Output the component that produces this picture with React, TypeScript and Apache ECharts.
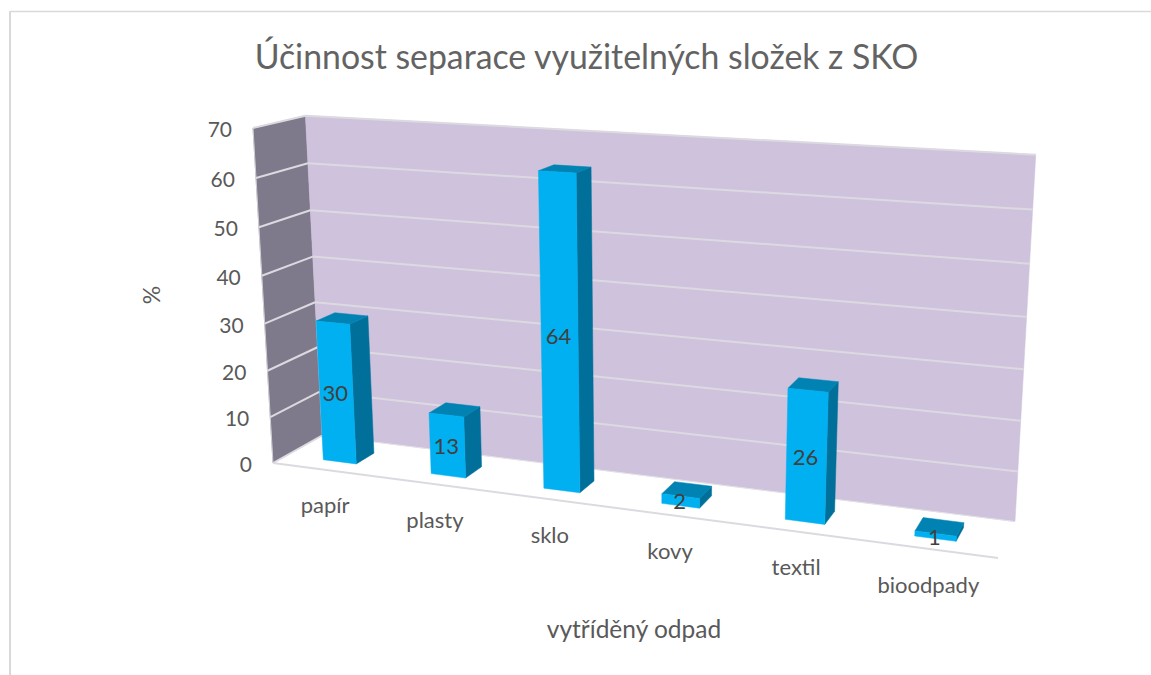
import React, { useEffect, useRef } from "react";
import * as echarts from "echarts";

const categories = ["papír", "plasty", "sklo", "kovy", "textil", "bioodpady"];
const values = [30, 13, 64, 2, 26, 1];
const tickValues = [0, 10, 20, 30, 40, 50, 60, 70];
const titleText = "Účinnost separace využitelných složek z SKO";
const xAxisName = "vytříděný odpad";
const yAxisName = "%";
const yMax = 70;

// Corners of the drawn 3D box on the page, used to build the projection.
type P = [number, number];
const A: P = [273, 463]; // front, left, floor
const B: P = [998, 558]; // front, right, floor
const C: P = [1015, 521.5]; // back, right, floor
const D: P = [322, 435.5]; // back, left, floor
const E: P = [253, 128]; // front, left, top
const G: P = [1036, 150]; // back, right, top
const skewY = 4; // small correction of the far top corner

const barShare = 0.31;
const depthFront = 0.28;
const depthBack = 0.66;

function buildProjection() {
  const a11 = B[0] - C[0], a12 = D[0] - C[0], a21 = B[1] - C[1], a22 = D[1] - C[1];
  const r1 = C[0] + A[0] - B[0] - D[0], r2 = C[1] + A[1] - B[1] - D[1];
  const det = a11 * a22 - a12 * a21;
  const al = (r1 * a22 - a12 * r2) / det;
  const ga = (a11 * r2 - r1 * a21) / det;
  const rhs = [0, 1].map(
    (k) => G[k] * (1 + al + ga) - B[k] * (1 + al) - D[k] * (1 + ga) - E[k] + 2 * A[k]
  );
  const e = [E[0] - G[0], E[1] - G[1]];
  const be = (rhs[0] * e[0] + rhs[1] * e[1]) / (e[0] * e[0] + e[1] * e[1]);
  return (u: number, v: number, w: number): P => {
    const den = 1 + al * u + be * v + ga * w;
    const out = [0, 1].map((k) => {
      const X = B[k] * (1 + al) - A[k];
      const Y = E[k] * (1 + be) - A[k];
      const Z = D[k] * (1 + ga) - A[k];
      return (A[k] + u * X + v * Y + w * Z) / den;
    });
    return [out[0], out[1] - skewY * u * v];
  };
}
const project = buildProjection();

const FONT = "Lato, 'Open Sans', sans-serif";
const GRID = "#DCDAE0";

function poly(points: P[], fill: string) {
  return { type: "polygon", shape: { points }, style: { fill, stroke: fill, lineWidth: 0.5 }, silent: true };
}
function seg(p: P, q: P, stroke = GRID, lineWidth = 2) {
  return {
    type: "line",
    shape: { x1: p[0], y1: p[1], x2: q[0], y2: q[1] },
    style: { stroke, lineWidth, fill: "none" },
    silent: true,
  };
}
function txt(text: string, x: number, y: number, size: number, fill: string, align = "center") {
  return {
    type: "text",
    silent: true,
    style: { text, x, y, fill, font: `${size}px ${FONT}`, align, verticalAlign: "middle" },
  };
}

export default function App() {
  const ref = useRef<HTMLDivElement>(null);
  useEffect(() => {
    document.body.style.margin = "0";
    const chart = echarts.init(ref.current!, null, { renderer: "svg" });
    const v01 = (params: any, api: any, value: number) => {
      const cs = params.coordSys;
      const py = api.coord([0, value])[1];
      return (cs.y + cs.height - py) / cs.height;
    };
    chart.setOption({
      animation: false,
      backgroundColor: "#FFFFFF",
      title: {
        text: titleText,
        left: 581.5,
        top: 34,
        textAlign: "center",
        textStyle: { fontFamily: FONT, fontWeight: 400, fontSize: 33.8, color: "#636363" },
      },
      grid: { left: 100, top: 100, width: 800, height: 400 },
      xAxis: { type: "category", data: categories, show: false },
      yAxis: { type: "value", min: 0, max: yMax, interval: 10, show: false },
      graphic: [
        { type: "line", silent: true, shape: { x1: 10, y1: 11.5, x2: 1151, y2: 11.5 }, style: { stroke: "#D9D9D9", lineWidth: 1.5 } },
        { type: "line", silent: true, shape: { x1: 10, y1: 11, x2: 10, y2: 675 }, style: { stroke: "#D9D9D9", lineWidth: 2 } },
        { type: "text", silent: true, style: { text: xAxisName, x: 634, y: 628, fill: "#595959", font: `24.5px ${FONT}`, align: "center", verticalAlign: "middle" } },
        { type: "text", silent: true, rotation: Math.PI / 2, x: 151, y: 295, style: { text: yAxisName, x: 0, y: 0, fill: "#595959", font: `23px ${FONT}`, align: "center", verticalAlign: "middle" } },
      ],
      series: [
        {
          type: "custom",
          coordinateSystem: "cartesian2d",
          silent: true,
          clip: false,
          data: [[0, yMax]],
          encode: { x: 0, y: 1 },
          z: 1,
          renderItem: () => ({
            type: "group",
            children: [
              poly([project(0, 0, 0), project(0, 0, 1), project(0, 1, 1), project(0, 1, 0)], "#7F7A8B"),
              poly([project(0, 0, 1), project(1, 0, 1), project(1, 1, 1), project(0, 1, 1)], "#CEC2DD"),
              seg(project(0, 0, 0), project(1, 0, 0)),
              seg(project(0, 0, 0), project(0, 0, 1)),
              seg(project(0, 0, 1), project(1, 0, 1), "#E3E0E6", 1),
              seg(project(0, 0, 0), project(0, 1, 0), "#D0CED3", 1),
            ],
          }),
        },
        {
          type: "custom",
          coordinateSystem: "cartesian2d",
          silent: true,
          clip: false,
          data: tickValues.map((t) => [0, t]),
          encode: { x: 0, y: 1 },
          z: 2,
          renderItem: (params: any, api: any) => {
            const t = api.value(1);
            const v = v01(params, api, t);
            const f = project(0, v, 0);
            const children: any[] = [txt(String(t), f[0] - 21, f[1] + 0.5, 21, "#595959", "right")];
            if (t > 0) {
              children.push(seg(f, project(0, v, 1)), seg(project(0, v, 1), project(1, v, 1)));
            }
            return { type: "group", children };
          },
        },
        {
          type: "custom",
          coordinateSystem: "cartesian2d",
          silent: true,
          clip: false,
          data: values.map((v, i) => [i, v]),
          encode: { x: 0, y: 1 },
          z: 3,
          renderItem: (params: any, api: any) => {
            const i = api.value(0);
            const val = api.value(1);
            const cs = params.coordSys;
            const c = (api.coord([i, val])[0] - cs.x) / cs.width;
            const slot = api.size([1, 0])[0] / cs.width;
            const u0 = c - (slot * barShare) / 2;
            const u1 = c + (slot * barShare) / 2;
            const h = v01(params, api, val);
            const p = (u: number, v: number, w: number) => project(u, v, w);
            const mid = project(c, h / 2, depthFront);
            const base = project(c, 0, 0);
            return {
              type: "group",
              children: [
                poly([p(u1, 0, depthFront), p(u1, 0, depthBack), p(u1, h, depthBack), p(u1, h, depthFront)], "#006F9A"),
                poly([p(u0, h, depthFront), p(u1, h, depthFront), p(u1, h, depthBack), p(u0, h, depthBack)], "#0083B3"),
                poly([p(u0, 0, depthFront), p(u1, 0, depthFront), p(u1, h, depthFront), p(u0, h, depthFront)], "#00B0F0"),
                txt(String(val), mid[0] - 1, mid[1], 22, "#404040"),
                txt(categories[i], base[0] - 1, base[1] + 35, 22, "#595959"),
              ],
            };
          },
        },
      ],
    });
    return () => chart.dispose();
  }, []);
  return <div ref={ref} style={{ position: "absolute", left: 0, top: 0, width: 1151, height: 675 }} />;
}
